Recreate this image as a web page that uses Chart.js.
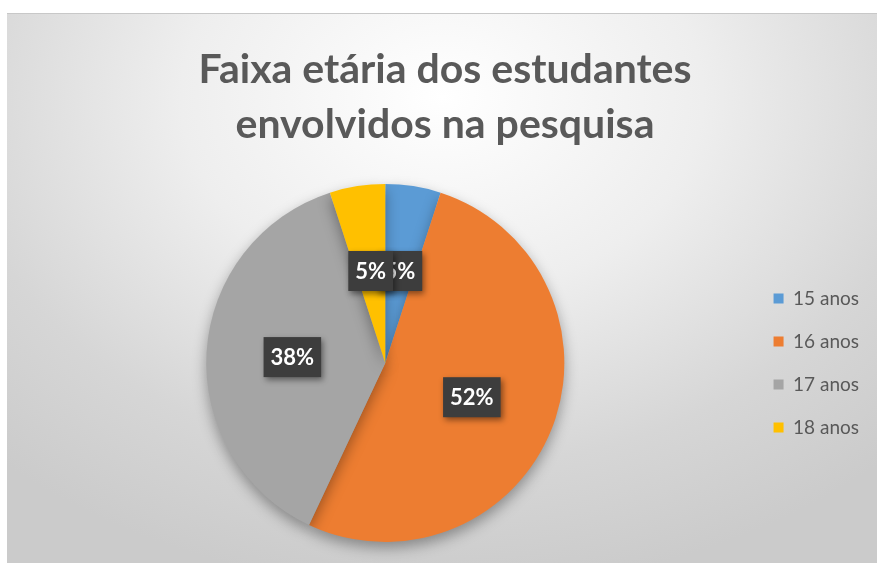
<!DOCTYPE html>
<html>
<head>
<meta charset="utf-8">
<script src="https://cdn.jsdelivr.net/npm/chart.js@4.4.1/dist/chart.umd.min.js"></script>
<style>
  body { margin: 0; background: #fff; }
  #box {
    position: absolute; left: 7px; top: 13px; width: 870px; height: 550px;
    background: radial-gradient(ellipse 75% 90% at 50% 15%, #ffffff 0%, #eeeeee 40%, #d6d6d6 75%, #cbcbcb 100%);
    border-top: 1px solid #c8c8c8;
  }
</style>
</head>
<body>
<div id="box"><canvas id="faixa_etaria_pie"></canvas></div>
<script>
var titleLines = ['Faixa etária dos estudantes', 'envolvidos na pesquisa'];
var categories = ['15 anos', '16 anos', '17 anos', '18 anos'];
var percentages = [5, 52, 38, 5];
var sliceColors = ['#5B9BD5', '#ED7D31', '#A5A5A5', '#FFC000'];

// dark label boxes like the excel data labels
var boxLabels = {
    id: 'boxLabels',
    beforeDatasetsDraw: function (chart) {
        var c = chart.ctx;
        c.save();
        c.shadowColor = 'rgba(0,0,0,0.35)';
        c.shadowBlur = 14;
        c.shadowOffsetY = 6;
    },
    afterDatasetsDraw: function (chart) {
        var c = chart.ctx;
        c.restore();
        var meta = chart.getDatasetMeta(0);
        var vals = chart.data.datasets[0].data;
        var total = vals.reduce(function (a, b) { return a + b; }, 0);
        c.save();
        c.font = 'bold 22px Lato, "Open Sans", sans-serif';
        c.textAlign = 'center';
        c.textBaseline = 'middle';
        meta.data.forEach(function (arc, i) {
            var p = arc.getProps(['x', 'y', 'startAngle', 'endAngle', 'outerRadius'], true);
            var mid = (p.startAngle + p.endAngle) / 2;
            var lx = p.x + Math.cos(mid) * p.outerRadius * 0.52;
            var ly = p.y + Math.sin(mid) * p.outerRadius * 0.52;
            var txt = Math.round(vals[i] / total * 100) + '%';
            var w = c.measureText(txt).width + 14;
            var h = 40;
            c.shadowColor = 'rgba(0,0,0,0.45)';
            c.shadowBlur = 6;
            c.shadowOffsetX = 2;
            c.shadowOffsetY = 3;
            c.fillStyle = '#3d3d3d';
            c.fillRect(lx - w / 2, ly - h / 2, w, h);
            c.shadowColor = 'transparent';
            c.fillStyle = '#ffffff';
            c.fillText(txt, lx, ly + 1);
        });
        c.restore();
    }
};

var ctx = document.getElementById('faixa_etaria_pie').getContext('2d');
var faixaChart = new Chart(ctx, {
    type: 'pie',
    data: {
        labels: categories,
        datasets: [{
            data: percentages,
            backgroundColor: sliceColors,
            borderWidth: 0
        }]
    },
    options: {
        responsive: true,
        maintainAspectRatio: false,
        animation: false,
        layout: { padding: { left: 14, right: 8, top: 0, bottom: 22 } },
        plugins: {
            title: {
                display: true,
                text: titleLines,
                color: '#595959',
                font: { family: 'Lato, "Open Sans", sans-serif', size: 41, weight: 'bold', lineHeight: 1.34 },
                padding: { top: 28, bottom: 32 }
            },
            legend: {
                position: 'right',
                fullSize: false,
                labels: {
                    color: '#595959',
                    font: { family: 'Lato, "Open Sans", sans-serif', size: 19 },
                    boxWidth: 10,
                    boxHeight: 10,
                    padding: 24
                }
            },
            tooltip: { enabled: false }
        }
    },
    plugins: [boxLabels]
});
</script>
</body>
</html>
